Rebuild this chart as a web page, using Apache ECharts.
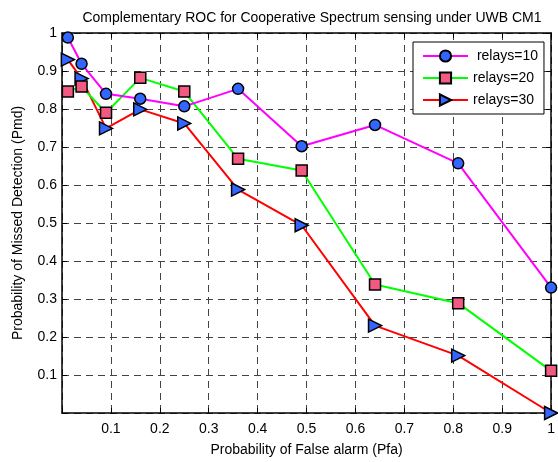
<!DOCTYPE html>
<html>
<head>
<meta charset="utf-8">
<script src="https://cdn.jsdelivr.net/npm/echarts@6/dist/echarts.min.js"></script>
<style>
html,body{margin:0;padding:0;background:#fff;}
#chart{width:558px;height:462px;}
</style>
</head>
<body>
<div id="chart"></div>
<script>
// Data
const pfa = [0.012, 0.04, 0.09, 0.16, 0.25, 0.36, 0.49, 0.64, 0.81, 1.0];
const relays10 = [0.988, 0.919, 0.840, 0.827, 0.807, 0.853, 0.702, 0.758, 0.657, 0.330];
const relays20 = [0.846, 0.859, 0.790, 0.882, 0.846, 0.669, 0.638, 0.338, 0.289, 0.111];
const relays30 = [0.930, 0.880, 0.749, 0.799, 0.762, 0.588, 0.494, 0.230, 0.151, 0.000];
const seriesNames = [' relays=10', 'relays=20', 'relays=30'];
const xTickLabels = ['', '0.1', '0.2', '0.3', '0.4', '0.5', '0.6', '0.7', '0.8', '0.9', '1'];
const yTickLabels = ['', '0.1', '0.2', '0.3', '0.4', '0.5', '0.6', '0.7', '0.8', '0.9', '1'];

const FONT = '"Liberation Sans", Arial, sans-serif';
const pairs = (ys) => pfa.map((x, i) => [x, ys[i]]);
const tickFmt = (labels) => (v) => labels[Math.round(v * 10)] ?? '';

const chart = echarts.init(document.getElementById('chart'), null, {renderer: 'canvas'});

const axisLine = {show: true, onZero: false, lineStyle: {color: '#000', width: 1.5}};
const tickIn = {show: true, inside: true, length: 5, lineStyle: {color: '#000', width: 1}};
const grid = {show: true, lineStyle: {color: '#444', width: 1, type: [7, 5]}};

chart.setOption({
  animation: false,
  backgroundColor: '#fff',
  title: {
    text: 'Complementary ROC for Cooperative Spectrum sensing under UWB CM1',
    left: 307, textAlign: 'center', top: 6,
    textStyle: {fontFamily: FONT, fontSize: 14, fontWeight: 'normal', color: '#000'}
  },
  grid: {left: 62, top: 33, right: 4, bottom: 42, containLabel: false},
  legend: {
    orient: 'vertical', left: 413, top: 42,
    padding: [7, 6, 7, 9], itemGap: 8, itemWidth: 45, itemHeight: 14,
    backgroundColor: '#fff', borderColor: '#000', borderWidth: 1,
    textStyle: {fontFamily: FONT, fontSize: 14, color: '#000'},
    data: seriesNames
  },
  xAxis: [{
    type: 'value', min: 0, max: 1, interval: 0.1, position: 'bottom',
    name: 'Probability of False alarm (Pfa)', nameLocation: 'middle', nameGap: 30,
    nameTextStyle: {fontFamily: FONT, fontSize: 14, color: '#000'},
    axisLine: axisLine, axisTick: tickIn, splitLine: grid,
    axisLabel: {formatter: tickFmt(xTickLabels), fontFamily: FONT, fontSize: 14, color: '#000', margin: 9}
  }, {
    type: 'value', min: 0, max: 1, interval: 0.1, position: 'top',
    axisLine: axisLine, axisTick: tickIn, splitLine: {show: false}, axisLabel: {show: false}
  }],
  yAxis: [{
    type: 'value', min: 0, max: 1, interval: 0.1, position: 'left',
    name: 'Probability of Missed Detection (Pmd)', nameLocation: 'middle', nameGap: 37,
    nameTextStyle: {fontFamily: FONT, fontSize: 14, color: '#000'},
    axisLine: axisLine, axisTick: tickIn, splitLine: grid,
    axisLabel: {formatter: tickFmt(yTickLabels), fontFamily: FONT, fontSize: 14, color: '#000', margin: 5}
  }, {
    type: 'value', min: 0, max: 1, interval: 0.1, position: 'right',
    axisLine: axisLine, axisTick: tickIn, splitLine: {show: false}, axisLabel: {show: false}
  }],
  series: [{
    name: seriesNames[0], type: 'line', data: pairs(relays10), clip: false,
    symbol: 'circle', symbolSize: 11,
    lineStyle: {color: '#ff00ff', width: 2},
    itemStyle: {color: '#3366ff', borderColor: '#000', borderWidth: 1.5},
    z: 4
  }, {
    name: seriesNames[1], type: 'line', data: pairs(relays20), clip: false,
    symbol: 'rect', symbolSize: 11,
    lineStyle: {color: '#00ff00', width: 2},
    itemStyle: {color: '#f25a82', borderColor: '#000', borderWidth: 1.5},
    z: 3
  }, {
    name: seriesNames[2], type: 'line', data: pairs(relays30), clip: false,
    symbol: 'triangle', symbolSize: 13, symbolRotate: -90,
    lineStyle: {color: '#ff0000', width: 2},
    itemStyle: {color: '#3366ff', borderColor: '#000', borderWidth: 1.5},
    z: 2
  }]
});
</script>
</body>
</html>
